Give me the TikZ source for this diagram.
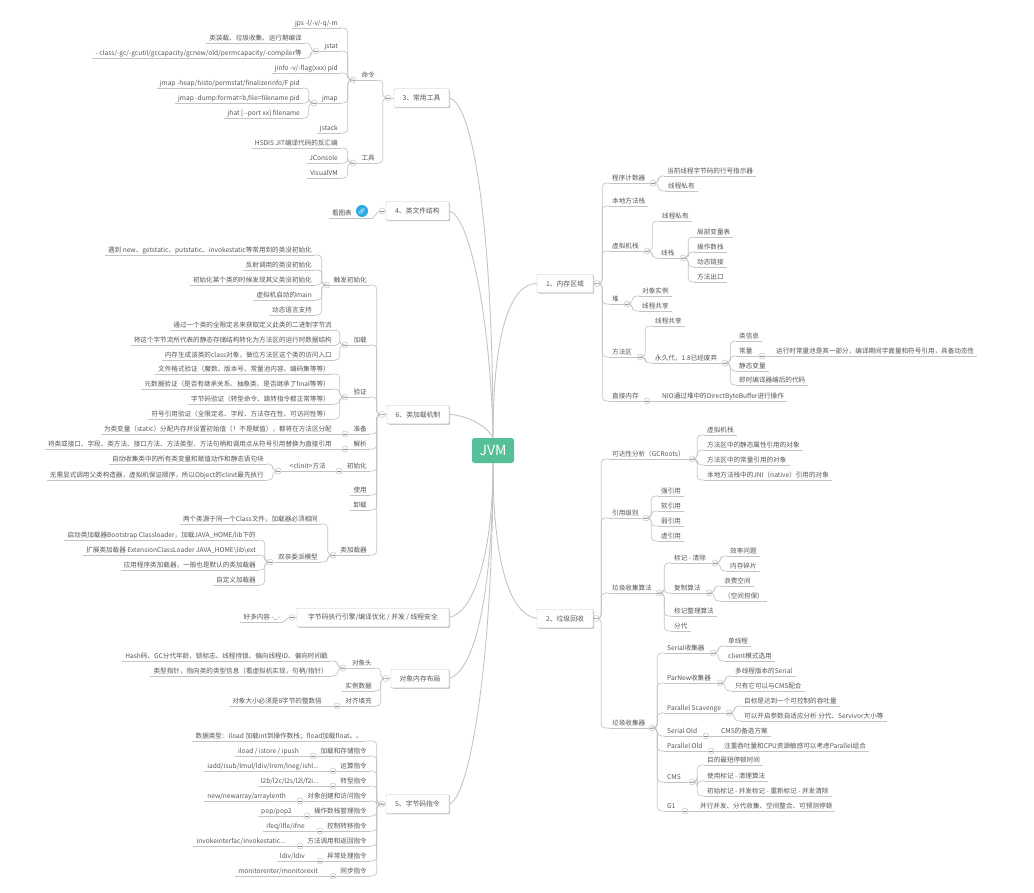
\documentclass[tikz,border=0pt]{standalone}
\usepackage{fontspec}
\setmainfont{Noto Sans CJK SC}
\newfontfamily\emofont{Noto Emoji}
\usetikzlibrary{shapes,shadows}
\definecolor{linegray}{HTML}{C4C4C4}
\definecolor{txtgray}{HTML}{555555}
\definecolor{rootgreen}{HTML}{55BF97}
\definecolor{icoblue}{HTML}{2BA9E0}
\begin{document}
\begin{tikzpicture}[x=1pt,y=-1pt]
\tikzstyle{dir}=[draw=linegray,line width=0.7pt];
\tikzstyle{leaf}=[font=\fontsize{6.6}{8}\selectfont,text=txtgray,inner xsep=3pt,inner ysep=1pt,text height=6pt,text depth=1.5pt,append after command={(\tikzlastnode.south west) edge [dir] (\tikzlastnode.south east)}];
\tikzstyle{lf}=[leaf,anchor=south east];
\tikzstyle{rg}=[leaf,anchor=south west];
\tikzstyle{top}=[draw=linegray,fill=white,rounded corners=1pt,font=\fontsize{6.8}{8}\selectfont,text=txtgray,minimum height=18.5pt,inner sep=0pt,drop shadow={shadow xshift=1pt,shadow yshift=-1pt,fill=black!35,opacity=.6}];
\tikzstyle{root}=[fill=rootgreen,rounded corners=2.5pt,text=white,font=\fontsize{14}{16}\selectfont,minimum width=42pt,minimum height=25pt,inner sep=0pt];
\tikzstyle{fold}=[circle,draw=linegray,fill=white,line width=0.5pt,inner sep=0pt,minimum size=6pt,path picture={\draw [black!45,line width=0.4pt] ([xshift=-1.6pt]path picture bounding box.center) -- ([xshift=1.6pt]path picture bounding box.center);}];
\tikzstyle{ico}=[circle,fill=icoblue,text=white,inner sep=0pt,minimum size=12pt,font=\emofont\fontsize{6}{6}\selectfont];
\tikzstyle{main}=[draw=linegray,line width=0.9pt];
\tikzstyle{brr}=[dir,rounded corners=4pt,to path={(\tikztostart) -- ++(2,0) |- (\tikztotarget)}];
\tikzstyle{brl}=[dir,rounded corners=4pt,to path={(\tikztostart) -- ++(-2,0) |- (\tikztotarget)}];
\useasboundingbox (0,0) rectangle (1034,893);
\node [root] (jvm) at (493,450.5) {JVM};
\node [top,minimum width=56pt] (a0) at (565,283.5) {1、内存区域};
\node [top,minimum width=56pt] (b0) at (565,618.5) {2、垃圾回收};
\node [top,minimum width=55pt] (c0) at (421.5,98) {3、常用工具};
\node [top,minimum width=63pt] (d0) at (417.5,211) {4、类文件结构};
\node [top,minimum width=62pt] (e0) at (418,414.5) {6、类加载机制};
\node [top,minimum width=152pt] (g0) at (373,617.5) {字节码执行引擎/编译优化 / 并发 / 线程安全};
\node [top,minimum width=58pt] (h0) at (420,678.5) {对象内存布局};
\node [top,minimum width=63pt] (i0) at (417.5,804) {5、字节码指令};
\draw [main] (jvm.north) .. controls +(0,-200) and +(25,5) .. (c0.east);
\draw [main] (jvm.north) .. controls +(-2,-110) and +(22,5) .. (d0.east);
\draw [main] (jvm.north) .. controls +(-8,-15) and +(12,0) .. (e0.east);
\draw [main] (jvm.north) .. controls +(0,-110) and +(-25,0) .. (a0.west);
\draw [main] (jvm.south) .. controls +(0,90) and +(-30,-5) .. (b0.west);
\draw [main] (jvm.south) .. controls +(0,90) and +(25,-5) .. (g0.east);
\draw [main] (jvm.south) .. controls +(0,110) and +(30,-10) .. (h0.east);
\draw [main] (jvm.south) .. controls +(0,200) and +(20,-5) .. (i0.east);
\node [fold] (a0f) at (597,283.5) {};
\node [rg] (a1) at (609,183) {程序计数器};
\node [rg] (a2) at (609,206) {本地方法栈};
\node [rg] (a3) at (609,251) {虚拟机栈};
\node [rg] (a4) at (609,304) {堆};
\node [rg] (a5) at (609,357) {方法区};
\node [rg] (a6) at (609,401) {直接内存};
\draw [dir] (a0.east) -- (a0f.west);
\draw [brr] (a0f.east) edge (a1.south west) edge (a2.south west) edge (a3.south west) edge (a4.south west) edge (a5.south west) edge (a6.south west);
\node [fold] (a1f) at (653,183) {};
\node [rg] (a11) at (664,176) {当前线程字节码的行号指示器};
\node [rg] (a12) at (665,191) {线程私有};
\draw [dir] (a1.south east) -- (a1f.west);
\draw [brr] (a1f.east) edge (a11.south west) edge (a12.south west);
\node [fold] (a3f) at (647,251) {};
\node [rg] (a31) at (659,221) {线程私有};
\node [rg] (a32) at (658,258) {线栈};
\draw [dir] (a3.south east) -- (a3f.west);
\draw [brr] (a3f.east) edge (a31.south west) edge (a32.south west);
\node [fold] (a32f) at (683,258) {};
\node [rg] (a321) at (694,237) {局部变量表};
\node [rg] (a322) at (694,252) {操作数栈};
\node [rg] (a323) at (694,267) {动态链接};
\node [rg] (a324) at (694,282) {方法出口};
\draw [dir] (a32.south east) -- (a32f.west);
\draw [brr] (a32f.east) edge (a321.south west) edge (a322.south west) edge (a323.south west) edge (a324.south west);
\node [fold] (a4f) at (627,304) {};
\node [rg] (a41) at (639,296) {对象实例};
\node [rg] (a42) at (639,311) {线程共享};
\draw [dir] (a4.south east) -- (a4f.west);
\draw [brr] (a4f.east) edge (a41.south west) edge (a42.south west);
\node [fold] (a5f) at (640,357) {};
\node [rg] (a51) at (652,326) {线程共享};
\node [rg] (a52) at (652,363) {永久代，1.8已经废弃};
\draw [dir] (a5.south east) -- (a5f.west);
\draw [brr] (a5f.east) edge (a51.south west) edge (a52.south west);
\node [fold] (a52f) at (725,363) {};
\node [rg] (a521) at (736,341) {类信息};
\node [rg] (a522) at (736,356) {常量};
\node [rg] (a523) at (736,371) {静态变量};
\node [rg] (a524) at (736,385) {即时编译器编后的代码};
\draw [dir] (a52.south east) -- (a52f.west);
\draw [brr] (a52f.east) edge (a521.south west) edge (a522.south west) edge (a523.south west) edge (a524.south west);
\node [fold] (a522f) at (762,356) {};
\node [rg] (a5221) at (773,356) {运行时常量池是其一部分，编译期间字面量和符号引用，具备动态性};
\draw [dir] (a522.south east) -- (a522f.west);
\draw [dir] (a522f.east) -- (a5221.south west);
\node [fold] (a6f) at (647,401) {};
\node [rg] (a61) at (659,401) {NIO通过堆中的DirectByteBuffer进行操作};
\draw [dir] (a6.south east) -- (a6f.west);
\draw [dir] (a6f.east) -- (a61.south west);
\node [fold] (b0f) at (596,618.5) {};
\node [rg] (b1) at (609,459) {可达性分析（GCRoots）};
\node [rg] (b2) at (609,518) {引用级别};
\node [rg] (b3) at (609,593) {垃圾收集算法};
\node [rg] (b4) at (609,728) {垃圾收集器};
\draw [dir] (b0.east) -- (b0f.west);
\draw [brr] (b0f.east) edge (b1.south west) edge (b2.south west) edge (b3.south west) edge (b4.south west);
\node [fold] (b1f) at (692,459) {};
\node [rg] (b11) at (704,435) {虚拟机栈};
\node [rg] (b12) at (704,450) {方法区中的静态属性引用的对象};
\node [rg] (b13) at (704,465) {方法区中的常量引用的对象};
\node [rg] (b14) at (704,480) {本地方法栈中的JNI（native）引用的对象};
\draw [dir] (b1.south east) -- (b1f.west);
\draw [brr] (b1f.east) edge (b11.south west) edge (b12.south west) edge (b13.south west) edge (b14.south west);
\node [fold] (b2f) at (646,518) {};
\node [rg] (b21) at (658,496) {强引用};
\node [rg] (b22) at (658,511) {软引用};
\node [rg] (b23) at (658,526) {弱引用};
\node [rg] (b24) at (658,541) {虚引用};
\draw [dir] (b2.south east) -- (b2f.west);
\draw [brr] (b2f.east) edge (b21.south west) edge (b22.south west) edge (b23.south west) edge (b24.south west);
\node [fold] (b3f) at (659,593) {};
\node [rg] (b31) at (671,563) {标记 - 清除};
\node [rg] (b32) at (671,593) {复制算法};
\node [rg] (b33) at (671,616) {标记整理算法};
\node [rg] (b34) at (671,631) {分代};
\draw [dir] (b3.south east) -- (b3f.west);
\draw [brr] (b3f.east) edge (b31.south west) edge (b32.south west) edge (b33.south west) edge (b34.south west);
\node [fold] (b31f) at (715,563) {};
\node [rg] (b311) at (727,556) {效率问题};
\node [rg] (b312) at (727,571) {内存碎片};
\draw [dir] (b31.south east) -- (b31f.west);
\draw [brr] (b31f.east) edge (b311.south west) edge (b312.south west);
\node [fold] (b32f) at (709,593) {};
\node [rg] (b321) at (721,586) {浪费空间};
\node [rg] (b322) at (721,601) {（空间担保）};
\draw [dir] (b32.south east) -- (b32f.west);
\draw [brr] (b32f.east) edge (b321.south west) edge (b322.south west);
\node [fold] (b4f) at (652,728) {};
\node [rg] (b41) at (664,653) {Serial收集器};
\node [rg] (b42) at (664,683) {ParNew收集器};
\node [rg] (b43) at (664,713) {Parallel Scavenge};
\node [rg] (b44) at (664,736) {Serial Old};
\node [rg] (b45) at (664,751) {Parallel Old};
\node [rg] (b46) at (664,782) {CMS};
\node [rg] (b47) at (664,811) {G1};
\draw [dir] (b4.south east) -- (b4f.west);
\draw [brr] (b4f.east) edge (b41.south west) edge (b42.south west) edge (b43.south west) edge (b44.south west) edge (b45.south west) edge (b46.south west) edge (b47.south west);
\node [fold] (b41f) at (713,653) {};
\node [rg] (b411) at (725,646) {单线程};
\node [rg] (b412) at (725,661) {client模式选用};
\draw [dir] (b41.south east) -- (b41f.west);
\draw [brr] (b41f.east) edge (b411.south west) edge (b412.south west);
\node [fold] (b42f) at (720,683) {};
\node [rg] (b421) at (732,676) {多线程版本的Serial};
\node [rg] (b422) at (732,691) {只有它可以与CMS配合};
\draw [dir] (b42.south east) -- (b42f.west);
\draw [brr] (b42f.east) edge (b421.south west) edge (b422.south west);
\node [fold] (b43f) at (729,713) {};
\node [rg] (b431) at (741,706) {目标是达到一个可控制的吞吐量};
\node [rg] (b432) at (741,721) {可以开启参数自适应分析 分代、Servivor大小等};
\draw [dir] (b43.south east) -- (b43f.west);
\draw [brr] (b43f.east) edge (b431.south west) edge (b432.south west);
\node [fold] (b44f) at (706,736) {};
\node [rg] (b441) at (718,736) {CMS的备选方案};
\draw [dir] (b44.south east) -- (b44f.west);
\draw [dir] (b44f.east) -- (b441.south west);
\node [fold] (b45f) at (711,751) {};
\node [rg] (b451) at (721,751) {注重吞吐量和CPU资源敏感可以考虑Parallel组合};
\draw [dir] (b45.south east) -- (b45f.west);
\draw [dir] (b45f.east) -- (b451.south west);
\node [fold] (b46f) at (692,782) {};
\node [rg] (b461) at (704,765) {目的最短停顿时间};
\node [rg] (b462) at (704,781) {使用标记 - 清理算法};
\node [rg] (b463) at (704,796) {初始标记 - 并发标记 - 重新标记 - 并发清除};
\draw [dir] (b46.south east) -- (b46f.west);
\draw [brr] (b46f.east) edge (b461.south west) edge (b462.south west) edge (b463.south west);
\node [fold] (b47f) at (685,811) {};
\node [rg] (b471) at (697,811) {并行并发、分代收集、空间整合、可预测停顿};
\draw [dir] (b47.south east) -- (b47f.west);
\draw [dir] (b47f.east) -- (b471.south west);
\node [fold] (c0f) at (388,98) {};
\node [lf] (c1) at (378,80) {命令};
\node [lf] (c2) at (378,163) {工具};
\draw [dir] (c0.west) -- (c0f.east);
\draw [brl] (c0f.west) edge (c1.south east) edge (c2.south east);
\node [fold] (c1f) at (353,80) {};
\node [lf] (c11) at (341,28) {jps -l/-v/-q/-m};
\node [lf] (c12) at (341,51) {jstat};
\node [lf] (c13) at (341,73) {jinfo -v/-flag(xxx) pid};
\node [lf] (c14) at (341,103) {jmap};
\node [lf] (c15) at (341,133) {jstack};
\draw [dir] (c1.south west) -- (c1f.east);
\draw [brl] (c1f.west) edge (c11.south east) edge (c12.south east) edge (c13.south east) edge (c14.south east) edge (c15.south east);
\node [fold] (c12f) at (316,51) {};
\node [lf] (c121) at (305,43) {类装载、垃圾收集、运行期编译};
\node [lf] (c122) at (305,58) {- class/-gc/-gcutil/gccapacity/gcnew/old/permcapacity/-compiler等};
\draw [dir] (c12.south west) -- (c12f.east);
\draw [brl] (c12f.west) edge (c121.south east) edge (c122.south east);
\node [fold] (c14f) at (314,103) {};
\node [lf] (c141) at (303,88) {jmap -heap/histo/permstat/finalizerinfo/F pid};
\node [lf] (c142) at (303,103) {jmap -dump:format=b,file=filename pid};
\node [lf] (c143) at (303,118) {jhat [{-}{-}port xx] filename};
\draw [dir] (c14.south west) -- (c14f.east);
\draw [brl] (c14f.west) edge (c141.south east) edge (c142.south east) edge (c143.south east);
\node [fold] (c2f) at (353,163) {};
\node [lf] (c21) at (341,148) {HSDIS JIT编译代码的反汇编};
\node [lf] (c22) at (341,163) {JConsole};
\node [lf] (c23) at (341,178) {VisualVM};
\draw [dir] (c2.south west) -- (c2f.east);
\draw [brl] (c2f.west) edge (c21.south east) edge (c22.south east) edge (c23.south east);
\node [fold] (d0f) at (382,211) {};
\node [lf] (d1) at (373,218) {看图表\hspace*{18pt}};
\node [ico] (d1i) at (362,211) {🔗};
\draw [dir] (d0.west) -- (d0f.east);
\draw [dir] (d0f.west) -- (d1.south east);
\node [fold] (e0f) at (382,414.5) {};
\node [lf] (e1) at (370,285) {触发初始化};
\node [lf] (e2) at (370,345) {加载};
\node [lf] (e3) at (370,397) {验证};
\node [lf] (e4) at (370,434) {准备};
\node [lf] (e5) at (370,449) {解析};
\node [lf] (e6) at (370,471) {初始化};
\node [lf] (e7) at (370,495) {使用};
\node [lf] (e8) at (370,510) {卸载};
\node [lf] (e9) at (370,555) {类加载器};
\draw [dir] (e0.west) -- (e0f.east);
\draw [brl] (e0f.west) edge (e1.south east) edge (e2.south east) edge (e3.south east) edge (e4.south east) edge (e5.south east) edge (e6.south east) edge (e7.south east) edge (e8.south east) edge (e9.south east);
\node [fold] (e1f) at (327,285) {};
\node [lf] (e11) at (315,255) {遇到 new、getstatic、putstatic、invokestatic等常用到的类没初始化};
\node [lf] (e12) at (315,270) {反射调用的类没初始化};
\node [lf] (e13) at (315,285) {初始化某个类的时候发现其父类没初始化};
\node [lf] (e14) at (315,300) {虚拟机启动的main};
\node [lf] (e15) at (315,315) {动态语言支持};
\draw [dir] (e1.south west) -- (e1f.east);
\draw [brl] (e1f.west) edge (e11.south east) edge (e12.south east) edge (e13.south east) edge (e14.south east) edge (e15.south east);
\node [fold] (e2f) at (345,345) {};
\node [lf] (e21) at (335,330) {通过一个类的全限定名来获取定义此类的二进制字节流};
\node [lf] (e22) at (335,345) {将这个字节流所代表的静态存储结构转化为方法区的运行时数据结构};
\node [lf] (e23) at (335,360) {内存生成该类的class对象，做位方法区这个类的访问入口};
\draw [dir] (e2.south west) -- (e2f.east);
\draw [brl] (e2f.west) edge (e21.south east) edge (e22.south east) edge (e23.south east);
\node [fold] (e3f) at (345,397) {};
\node [lf] (e31) at (333,374) {文件格式验证（魔数、版本号、常量池内容、编码集等等）};
\node [lf] (e32) at (333,389) {元数据验证（是否有继承关系、抽象类、是否继承了final等等）};
\node [lf] (e33) at (333,404) {字节码验证（转型命令、跳转指令都正常等等）};
\node [lf] (e34) at (333,419) {符号引用验证（全限定名、字段、方法存在性、可访问性等）};
\draw [dir] (e3.south west) -- (e3f.east);
\draw [brl] (e3f.west) edge (e31.south east) edge (e32.south east) edge (e33.south east) edge (e34.south east);
\node [fold] (e4f) at (345,434) {};
\node [lf] (e41) at (335,434) {为类变量（static）分配内存并设置初始值（！不是赋值），都将在方法区分配};
\draw [dir] (e4.south west) -- (e4f.east);
\draw [dir] (e4f.west) -- (e41.south east);
\node [fold] (e5f) at (345,449) {};
\node [lf] (e51) at (335,449) {将类或接口、字段、类方法、接口方法、方法类型、方法句柄和调用点从符号引用替换为直接引用};
\draw [dir] (e5.south west) -- (e5f.east);
\draw [dir] (e5f.west) -- (e51.south east);
\node [fold] (e6f) at (339,471) {};
\node [lf] (e61) at (329,471) {<clinit>方法};
\draw [dir] (e6.south west) -- (e6f.east);
\draw [dir] (e6f.west) -- (e61.south east);
\node [fold] (e61f) at (278,471) {};
\node [lf] (e611) at (267,464) {自动收集类中的所有类变量和赋值动作和静态语句块};
\node [lf] (e612) at (267,480) {无需显式调用父类构造器，虚拟机保证顺序，所以Object的clinit最先执行};
\draw [dir] (e61.south west) -- (e61f.east);
\draw [brl] (e61f.west) edge (e611.south east) edge (e612.south east);
\node [fold] (e9f) at (333,555) {};
\node [lf] (e91) at (321,524) {两个类源于同一个Class文件，加载器必须相同};
\node [lf] (e92) at (321,562) {双亲委派模型};
\draw [dir] (e9.south west) -- (e9f.east);
\draw [brl] (e9f.west) edge (e91.south east) edge (e92.south east);
\node [fold] (e92f) at (270,562) {};
\node [lf] (e921) at (259,540) {启动类加载器Bootstrap Classloader，加载JAVA\_HOME/lib下的};
\node [lf] (e922) at (259,555) {扩展类加载器 ExtensionClassLoader JAVA\_HOME\textbackslash lib\textbackslash ext};
\node [lf] (e923) at (259,570) {应用程序类加载器，一般也是默认的类加载器};
\node [lf] (e924) at (259,585) {自定义加载器};
\draw [dir] (e92.south west) -- (e92f.east);
\draw [brl] (e92f.west) edge (e921.south east) edge (e922.south east) edge (e923.south east) edge (e924.south east);
\node [fold] (g0f) at (292,617.5) {};
\node [lf] (g1) at (283,622) {好多内容 -\_-};
\draw [dir] (g0.west) -- (g0f.east);
\draw [dir] (g0f.west) -- (g1.south east);
\node [fold] (h0f) at (386,678.5) {};
\node [lf] (h1) at (375,668) {对象头};
\node [lf] (h2) at (375,691) {实例数据};
\node [lf] (h3) at (375,706) {对齐填充};
\draw [dir] (h0.west) -- (h0f.east);
\draw [brl] (h0f.west) edge (h1.south east) edge (h2.south east) edge (h3.south east);
\node [fold] (h1f) at (343,668) {};
\node [lf] (h11) at (331,661) {Hash码、GC分代年龄、锁标志、线程持锁、偏向线程ID、偏向时间戳};
\node [lf] (h12) at (331,676) {类型指针，指向类的类型信息（看虚拟机实现，句柄/指针）};
\draw [dir] (h1.south west) -- (h1f.east);
\draw [brl] (h1f.west) edge (h11.south east) edge (h12.south east);
\node [fold] (h3f) at (337,706) {};
\node [lf] (h31) at (325,706) {对象大小必须是8字节的整数倍};
\draw [dir] (h3.south west) -- (h3f.east);
\draw [dir] (h3f.west) -- (h31.south east);
\node [fold] (i0f) at (382,804) {};
\node [lf] (i1) at (366,741) {数据类型：iload 加载int到操作数栈；fload加载float。。};
\node [lf] (i2) at (370,756) {加载和存储指令};
\node [lf] (i3) at (370,771) {运算指令};
\node [lf] (i4) at (370,786) {转型指令};
\node [lf] (i5) at (370,801) {对象创建和访问指令};
\node [lf] (i6) at (370,816) {操作数栈管理指令};
\node [lf] (i7) at (370,831) {控制转移指令};
\node [lf] (i8) at (370,846) {方法调用和返回指令};
\node [lf] (i9) at (370,861) {异常处理指令};
\node [lf] (i10) at (370,876) {同步指令};
\draw [dir] (i0.west) -- (i0f.east);
\draw [brl] (i0f.west) edge (i1.south east) edge (i2.south east) edge (i3.south east) edge (i4.south east) edge (i5.south east) edge (i6.south east) edge (i7.south east) edge (i8.south east) edge (i9.south east) edge (i10.south east);
\node [fold] (i2f) at (313,756) {};
\node [lf] (i21) at (302,756) {iload / istore / ipush};
\draw [dir] (i2.south west) -- (i2f.east);
\draw [dir] (i2f.west) -- (i21.south east);
\node [fold] (i3f) at (333,771) {};
\node [lf] (i31) at (322,771) {iadd/isub/lmul/ldiv/lrem/lneg/ishl...};
\draw [dir] (i3.south west) -- (i3f.east);
\draw [dir] (i3f.west) -- (i31.south east);
\node [fold] (i4f) at (333,786) {};
\node [lf] (i41) at (322,786) {l2b/l2c/l2s/l2l/f2i...};
\draw [dir] (i4.south west) -- (i4f.east);
\draw [dir] (i4f.west) -- (i41.south east);
\node [fold] (i5f) at (300,801) {};
\node [lf] (i51) at (289,801) {new/newarray/arraylenth};
\draw [dir] (i5.south west) -- (i5f.east);
\draw [dir] (i5f.west) -- (i51.south east);
\node [fold] (i6f) at (307,816) {};
\node [lf] (i61) at (295,816) {pop/pop2};
\draw [dir] (i6.south west) -- (i6f.east);
\draw [dir] (i6f.west) -- (i61.south east);
\node [fold] (i7f) at (320,831) {};
\node [lf] (i71) at (308,831) {ifeq/ifle/ifne};
\draw [dir] (i7.south west) -- (i7f.east);
\draw [dir] (i7f.west) -- (i71.south east);
\node [fold] (i8f) at (300,846) {};
\node [lf] (i81) at (289,846) {invokeinterfac/invokestatic...};
\draw [dir] (i8.south west) -- (i8f.east);
\draw [dir] (i8f.west) -- (i81.south east);
\node [fold] (i9f) at (320,861) {};
\node [lf] (i91) at (308,861) {ldiv/ldiv};
\draw [dir] (i9.south west) -- (i9f.east);
\draw [dir] (i9f.west) -- (i91.south east);
\node [fold] (i10f) at (333,876) {};
\node [lf] (i101) at (321,876) {monitorenter/monitorexit};
\draw [dir] (i10.south west) -- (i10f.east);
\draw [dir] (i10f.west) -- (i101.south east);
\end{tikzpicture}
\end{document}
